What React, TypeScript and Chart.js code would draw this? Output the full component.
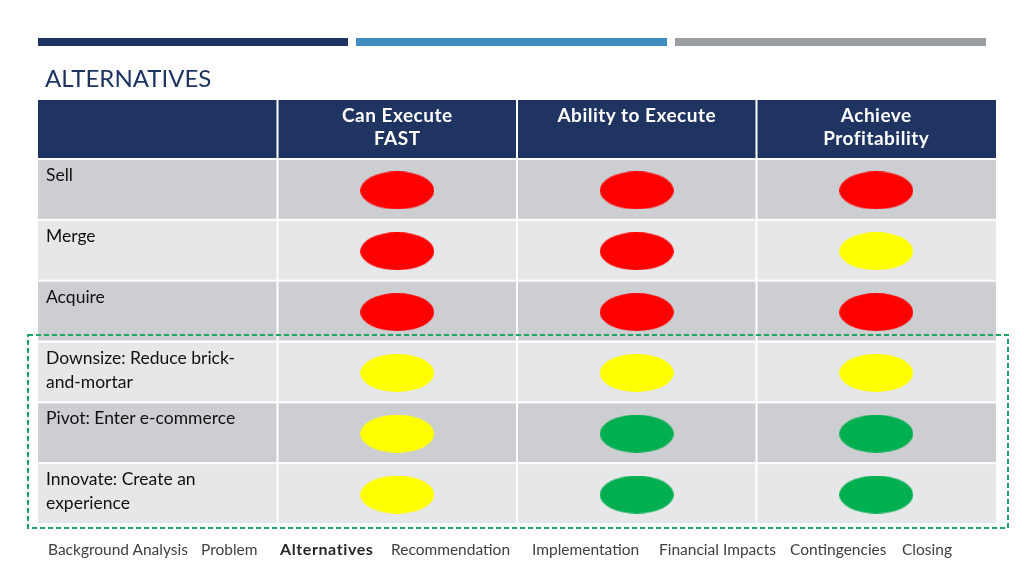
import React, { useEffect, useRef } from "react";
import { Chart, registerables } from "chart.js";

Chart.register(...registerables);

// ---------- data ----------
const title = "ALTERNATIVES";
const criteria: string[][] = [
  ["Can Execute", "FAST"],
  ["Ability to Execute"],
  ["Achieve", "Profitability"],
];
const alternatives: string[][] = [
  ["Sell"],
  ["Merge"],
  ["Acquire"],
  ["Downsize: Reduce brick-", "and-mortar"],
  ["Pivot: Enter e-commerce"],
  ["Innovate: Create an", "experience"],
];
// R = red, Y = yellow, G = green
const canExecuteFast = ["R", "R", "R", "Y", "Y", "Y"];
const abilityToExecute = ["R", "R", "R", "Y", "G", "G"];
const achieveProfitability = ["R", "Y", "R", "Y", "G", "G"];
const navItems = [
  "Background Analysis",
  "Problem",
  "Alternatives",
  "Recommendation",
  "Implementation",
  "Financial Impacts",
  "Contingencies",
  "Closing",
];
const activeNav = "Alternatives";

// ---------- styling ----------
const NAVY = "#1F3461";
const ratingColors: Record<string, string> = { R: "#FF0000", Y: "#FFFF00", G: "#00B050" };
const FONT = "Lato, 'Open Sans', sans-serif";
const AREA = { left: 38, right: 996, top: 160, bottom: 525 };
const HEADER_H = 60;
const navLeft = [48, 201, 280, 391, 532, 659, 790, 902];

function ellipseCanvas(color: string): HTMLCanvasElement {
  const w = 74, h = 38;
  const c = document.createElement("canvas");
  c.width = w;
  c.height = h;
  const ctx = c.getContext("2d")!;
  ctx.fillStyle = color;
  ctx.beginPath();
  ctx.ellipse(w / 2, h / 2, w / 2, h / 2, 0, 0, Math.PI * 2);
  ctx.fill();
  return c;
}

const tablePlugin = {
  id: "tableGrid",
  beforeDraw(chart: any) {
    const { ctx, chartArea, scales } = chart;
    const x = scales.x, y = scales.y;
    ctx.save();
    ctx.fillStyle = NAVY;
    ctx.fillRect(chartArea.left, chartArea.top - HEADER_H, chartArea.right - chartArea.left, HEADER_H - 2);
    alternatives.forEach((_, i) => {
      const top = y.getPixelForValue(i - 0.5);
      const bot = y.getPixelForValue(i + 0.5);
      ctx.fillStyle = i % 2 === 0 ? "#CDCED1" : "#E6E7E8";
      ctx.fillRect(chartArea.left, top, chartArea.right - chartArea.left, bot - top - 2);
    });
    ctx.fillStyle = "#FFFFFF";
    for (let c = 1; c <= criteria.length; c++) {
      const px = x.getPixelForValue(c - 0.5);
      ctx.fillRect(px - 1, chartArea.top - HEADER_H, 2, chartArea.bottom - chartArea.top + HEADER_H);
    }
    ctx.restore();
  },
  afterDraw(chart: any) {
    const { ctx } = chart;
    ctx.save();
    ctx.strokeStyle = "#1FA463";
    ctx.lineWidth = 2;
    ctx.setLineDash([5, 3]);
    ctx.strokeRect(28, 335, 980, 193);
    ctx.restore();
  },
};

export default function App() {
  const ref = useRef<HTMLCanvasElement>(null);

  useEffect(() => {
    const series = [canExecuteFast, abilityToExecute, achieveProfitability];
    const styles: Record<string, HTMLCanvasElement> = {
      R: ellipseCanvas(ratingColors.R),
      Y: ellipseCanvas(ratingColors.Y),
      G: ellipseCanvas(ratingColors.G),
    };
    const chart = new Chart(ref.current!, {
      type: "scatter",
      data: {
        datasets: series.map((ratings, c) => ({
          label: criteria[c].join(" "),
          data: ratings.map((_, i) => ({ x: c + 1, y: i })),
          pointStyle: ratings.map((r) => styles[r]) as any,
          pointRadius: 19,
        })),
      },
      options: {
        responsive: false,
        animation: false,
        layout: {
          padding: {
            left: AREA.left,
            right: 1024 - AREA.right,
            top: AREA.top,
            bottom: 576 - AREA.bottom,
          },
        },
        scales: {
          x: { type: "linear", min: -0.5, max: 3.5, display: false },
          y: { type: "linear", min: -0.5, max: 5.5, reverse: true, display: false },
        },
        plugins: { legend: { display: false }, tooltip: { enabled: false } },
        events: [],
      },
      plugins: [tablePlugin],
    });
    return () => chart.destroy();
  }, []);

  const rowH = (AREA.bottom - AREA.top) / alternatives.length;
  const colW = (AREA.right - AREA.left) / (criteria.length + 1);
  const bars = [
    { l: 38, r: 348, c: NAVY },
    { l: 356, r: 667, c: "#3F8DC3" },
    { l: 675, r: 986, c: "#9A9EA3" },
  ];

  return (
    <div style={{ position: "absolute", left: 0, top: 0, width: 1024, height: 576, background: "#fff", fontFamily: FONT, overflow: "hidden" }}>
      {bars.map((b, i) => (
        <div key={i} style={{ position: "absolute", left: b.l, top: 38, width: b.r - b.l, height: 8, background: b.c }} />
      ))}
      <canvas ref={ref} width={1024} height={576} style={{ position: "absolute", left: 0, top: 0, width: 1024, height: 576 }} />
      <div style={{ position: "absolute", left: 45, top: 63, fontSize: 24, color: NAVY, lineHeight: "30px" }}>{title}</div>
      {criteria.map((lines, c) => (
        <div key={c} style={{ position: "absolute", left: AREA.left + colW * (c + 1), width: colW, top: 103, textAlign: "center", color: "#fff", fontWeight: 700, fontSize: 19, letterSpacing: "0.5px", lineHeight: "23px" }}>
          {lines.map((l, k) => <div key={k}>{l}</div>)}
        </div>
      ))}
      {alternatives.map((lines, i) => (
        <div key={i} style={{ position: "absolute", left: 46, top: AREA.top + rowH * i + 3, color: "#111", fontSize: 17.5, lineHeight: "24px", whiteSpace: "nowrap" }}>
          {lines.map((l, k) => <div key={k}>{l}</div>)}
        </div>
      ))}
      {navItems.map((n, i) => (
        <div key={n} style={{ position: "absolute", left: navLeft[i], top: 539, fontSize: n === activeNav ? 16 : 15.5, letterSpacing: n === activeNav ? "0.6px" : "0px", lineHeight: "20px", color: n === activeNav ? "#262626" : "#404040", fontWeight: n === activeNav ? 700 : 400, whiteSpace: "nowrap" }}>{n}</div>
      ))}
    </div>
  );
}
